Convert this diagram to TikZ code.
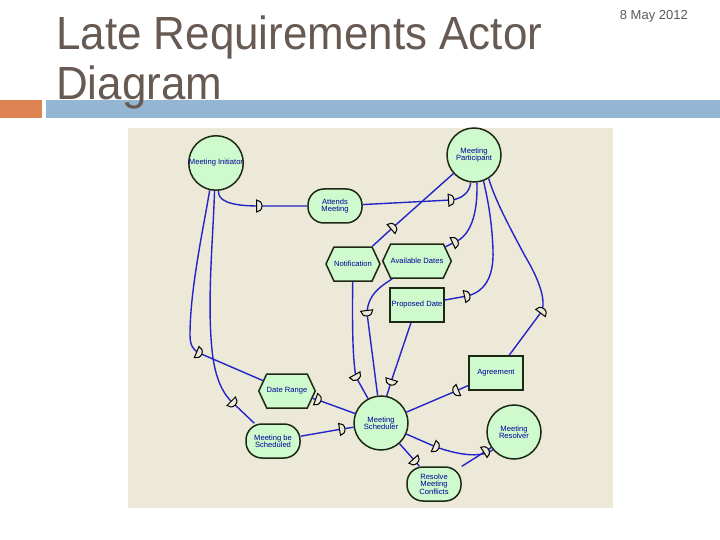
\documentclass[tikz,border=0pt]{standalone}
\usepackage{fontspec}
\setmainfont{Liberation Sans}
\newfontfamily\titlefont[FakeStretch=0.945]{Liberation Sans}
\usetikzlibrary{shapes.symbols}
\definecolor{titlecol}{RGB}{103,90,82}
\definecolor{datecol}{RGB}{90,90,90}
\definecolor{barorange}{RGB}{221,132,82}
\definecolor{barblue}{RGB}{148,182,210}
\definecolor{bgcol}{RGB}{236,233,216}
\definecolor{nodefill}{RGB}{206,250,206}
\definecolor{nodeborder}{RGB}{30,40,20}
\definecolor{textcol}{RGB}{0,0,150}
\definecolor{edgecol}{RGB}{36,36,200}
\tikzset{
  base/.style={draw=nodeborder, line width=1.5pt, fill=nodefill, inner sep=0pt,
    text=textcol, font=\fontsize{7.6}{7.4}\selectfont, align=center},
  actor/.style={base, circle, minimum size=54pt},
  goal/.style={base, rectangle, rounded corners=16pt, minimum width=54pt, minimum height=34pt},
  res/.style={base, rectangle, minimum width=54pt, minimum height=34pt},
  hexa/.style={base, shape=signal, signal to=east and west, signal pointer angle=130,
    minimum width=54pt, minimum height=34pt},
  edge/.style={draw=edgecol, line width=1.4pt},
  dm/.pic={\draw[black, line width=1pt, fill=bgcol] (-2.5pt,-6pt) -- (-2.5pt,6pt)
    arc[start angle=90, end angle=-90, x radius=5.5pt, y radius=6pt] -- cycle;}
}
\begin{document}
\begin{tikzpicture}[x=1pt,y=-1pt]
\useasboundingbox (0,0) rectangle (720,540);
\fill[white] (0,0) rectangle (720,540);
% header
\fill[barorange] (0,100) rectangle (42,118);
\fill[barblue] (46,100) rectangle (720,118);
\node[anchor=base west, inner sep=0pt, text=titlecol, font=\titlefont\fontsize{46.5}{50}\selectfont] (t1) at (56,50) {Late Requirements Actor};
\node[anchor=base west, inner sep=0pt, text=titlecol, font=\titlefont\fontsize{46.5}{50}\selectfont] (t2) at (56,100) {Diagram};
\node[anchor=base east, inner sep=0pt, text=datecol, font=\fontsize{13}{14}\selectfont] (date) at (688,20) {8 May 2012};
% diagram background
\fill[bgcol] (128,128) rectangle (613,508);
% nodes
\node[actor] (MI) at (216,163) {Meeting Initiator};
\node[goal] (AM) at (335,206) {Attends\\Meeting};
\node[actor] (MP) at (474,155) {Meeting\\Participant};
\node[hexa] (NOT) at (353,264) {Notification};
\node[hexa] (AD) at (417,261) {Available Dates};
\node[res] (PD) at (417,305) {Proposed Date};
\node[res] (AG) at (496,373) {Agreement};
\node[hexa] (DR) at (287,391) {Date Range};
\node[actor] (MS) at (381,423) {Meeting\\Scheduler};
\node[goal] (MBS) at (273,441) {Meeting be\\Scheduled};
\node[actor] (MR) at (514,432) {Meeting\\Resolver};
\node[goal] (RMC) at (434,484) {Resolve\\Meeting\\Conflicts};
% marker points
\coordinate (ma) at (259,206);
\coordinate (mb) at (451,200);
\coordinate (mc) at (393,227.4);
\coordinate (md) at (455,242);
\coordinate (me) at (467,296);
\coordinate (mf) at (542,311);
\coordinate (mg) at (199,353);
\coordinate (mh) at (233,403);
\coordinate (mi) at (356,377);
\coordinate (mj) at (367,313);
\coordinate (mk) at (391,382);
\coordinate (ml) at (456,391);
\coordinate (mm) at (318,400);
\coordinate (mn) at (342,429);
\coordinate (mo) at (436,447);
\coordinate (mp) at (415,461);
\coordinate (mq) at (486,451);
% connectors
\draw[edge] (MI.-85) .. controls (218,200) and (228,206) .. (ma) -- (AM);
\draw[edge] (AM) -- (mb) .. controls (462,199) and (470,192) .. (MP.-97);
\draw[edge] (NOT) -- (mc) -- (MP.-138);
\draw[edge] (AD) -- (md) .. controls (470,236) and (478,215) .. (MP.-84);
\draw[edge] (PD) -- (me) .. controls (484,292) and (494,278) .. (493,250) .. controls (492,222) and (488,200) .. (MP.-70);
\draw[edge] (AG) -- (mf) .. controls (546,298) and (538,278) .. (525,256) .. controls (510,228) and (495,200) .. (MP.-58);
\draw[edge] (MI.-103) .. controls (203,230) and (190,290) .. (190,335) .. controls (190,345) and (193,350) .. (mg) -- (DR);
\draw[edge] (MI.-93) .. controls (213,240) and (207,300) .. (212,350) .. controls (215,380) and (224,395) .. (mh) -- (MBS);
\draw[edge] (NOT) .. controls (352,330) and (353,362) .. (mi) -- (MS.118);
\draw[edge] (AD) .. controls (385,284) and (368,292) .. (mj) -- (MS.97);
\draw[edge] (PD) -- (mk) -- (MS.78);
\draw[edge] (AG) -- (ml) -- (MS);
\draw[edge] (DR) -- (mm) -- (MS);
\draw[edge] (MBS) -- (mn) -- (MS);
\draw[edge] (MS) -- (mo) .. controls (456,454) and (480,459) .. (MR.-140);
\draw[edge] (MS) -- (mp) -- (RMC);
\draw[edge] (RMC) -- (mq) -- (MR);
% dependency markers
\pic[rotate=0] at (ma) {dm};
\pic[rotate=4] at (mb) {dm};
\pic[rotate=41] at (mc) {dm};
\pic[rotate=25] at (md) {dm};
\pic[rotate=12] at (me) {dm};
\pic[rotate=53] at (mf) {dm};
\pic[rotate=-23] at (mg) {dm};
\pic[rotate=-45] at (mh) {dm};
\pic[rotate=-61] at (mi) {dm};
\pic[rotate=-83] at (mj) {dm};
\pic[rotate=-107] at (mk) {dm};
\pic[rotate=-158] at (ml) {dm};
\pic[rotate=-20] at (mm) {dm};
\pic[rotate=9] at (mn) {dm};
\pic[rotate=-23] at (mo) {dm};
\pic[rotate=-48] at (mp) {dm};
\pic[rotate=32] at (mq) {dm};
\end{tikzpicture}
\end{document}
